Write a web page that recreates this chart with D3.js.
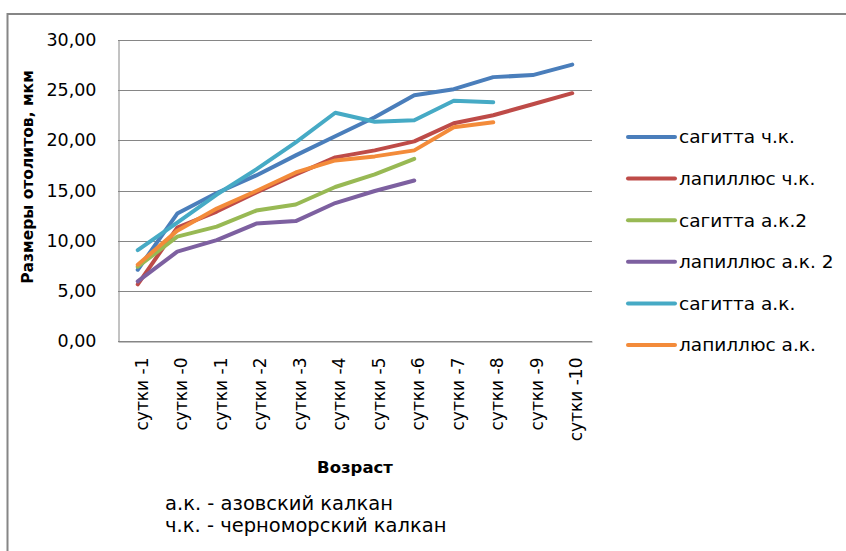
<!DOCTYPE html>
<html>
<head>
<meta charset="utf-8">
<script src="https://cdn.jsdelivr.net/npm/d3@7"></script>
<style>
  html, body { margin: 0; padding: 0; background: #fff; }
  svg { display: block; }
  text { font-family: "DejaVu Sans", "Open Sans", sans-serif; fill: #000; }
</style>
</head>
<body>
<svg id="chart" width="846" height="551"></svg>
<script>
// Age categories (days)
const categories = ["сутки -1", "сутки -0", "сутки -1", "сутки -2", "сутки -3", "сутки -4",
                    "сутки -5", "сутки -6", "сутки -7", "сутки -8", "сутки -9", "сутки -10"];

// Otolith sizes, µm
const sagittaChk   = [7.1, 12.7, 14.75, 16.5, 18.5, 20.4, 22.3, 24.5, 25.1, 26.3, 26.5, 27.55];
const lapillusChk  = [5.65, 11.3, 12.9, 14.8, 16.6, 18.3, 19.0, 19.9, 21.7, 22.5, 23.6, 24.7];
const sagittaAk2   = [7.4, 10.4, 11.4, 13.0, 13.6, 15.35, 16.6, 18.15];
const lapillusAk2  = [5.95, 8.9, 10.05, 11.7, 11.95, 13.75, 14.95, 16.0];
const sagittaAk    = [9.05, 11.8, 14.6, 17.1, 19.8, 22.75, 21.85, 22.0, 23.95, 23.8];
const lapillusAk   = [7.6, 11.0, 13.2, 14.95, 16.8, 18.0, 18.4, 19.0, 21.3, 21.8];

const seriesNames  = ["сагитта ч.к.", "лапиллюс ч.к.", "сагитта а.к.2", "лапиллюс а.к. 2", "сагитта а.к.", "лапиллюс а.к."];
const seriesValues = [sagittaChk, lapillusChk, sagittaAk2, lapillusAk2, sagittaAk, lapillusAk];
const seriesColors = ["#4A7EBB", "#BE4B48", "#98B954", "#7D60A0", "#46AAC5", "#F38B3A"];

const yTicks = [0, 5, 10, 15, 20, 25, 30];
const notes = ["а.к. - азовский калкан", "ч.к. - черноморский калкан"];

const svg = d3.select("#chart");

// outer chart frame (continues past the right and bottom edges)
svg.append("rect")
  .attr("x", 7.5).attr("y", 14).attr("width", 900).attr("height", 600)
  .attr("fill", "#fff").attr("stroke", "#868686").attr("stroke-width", 2);

const plot = { left: 118, right: 592, top: 40, bottom: 341 };

const x = d3.scaleBand()
  .domain(d3.range(categories.length))
  .range([plot.left, plot.right]);
const xc = i => x(i) + x.bandwidth() / 2;

const y = d3.scaleLinear().domain([0, 30]).range([plot.bottom, plot.top]);

// horizontal gridlines
svg.append("g")
  .selectAll("line")
  .data(yTicks)
  .join("line")
  .attr("x1", plot.left).attr("x2", plot.right)
  .attr("y1", d => Math.round(y(d)) + 0.5).attr("y2", d => Math.round(y(d)) + 0.5)
  .attr("stroke", "#868686").attr("stroke-width", 1);

// value axis
const yAxis = svg.append("g")
  .attr("transform", `translate(${plot.left + 0.5},0)`)
  .call(d3.axisLeft(y).tickValues(yTicks).tickSize(0).tickPadding(22)
    .tickFormat(d => d3.format(".2f")(d).replace(".", ",")));
yAxis.select(".domain").attr("stroke", "#868686");
yAxis.selectAll("text")
  .style("font-family", "'DejaVu Sans', sans-serif")
  .style("font-size", "17.5px").attr("fill", "#000");

// category axis
const xAxis = svg.append("g")
  .attr("transform", `translate(0,${Math.round(plot.bottom) + 0.5})`)
  .call(d3.axisBottom(x).tickSize(0).tickFormat(i => categories[i]));
xAxis.select(".domain").attr("stroke", "#868686");
xAxis.selectAll("text")
  .style("font-family", "'DejaVu Sans', sans-serif")
  .style("font-size", "17px").attr("fill", "#000")
  .attr("text-anchor", "end")
  .attr("transform", "rotate(-90)")
  .attr("x", -16).attr("y", 4).attr("dy", "0.35em");

// series lines
const line = d3.line()
  .x((d, i) => xc(i))
  .y(d => y(d));

svg.append("g")
  .selectAll("path")
  .data(seriesValues)
  .join("path")
  .attr("d", line)
  .attr("fill", "none")
  .attr("stroke", (d, i) => seriesColors[i])
  .attr("stroke-width", 4)
  .attr("stroke-linejoin", "round")
  .attr("stroke-linecap", "round");

// legend
const legend = svg.append("g").attr("transform", "translate(628,137)");
const item = legend.selectAll("g")
  .data(seriesNames)
  .join("g")
  .attr("transform", (d, i) => `translate(0,${i * 41.6})`);
item.append("line")
  .attr("x1", 0).attr("x2", 47).attr("y1", 0).attr("y2", 0)
  .attr("stroke", (d, i) => seriesColors[i])
  .attr("stroke-width", 4).attr("stroke-linecap", "round");
item.append("text")
  .attr("x", 51).attr("y", 0).attr("dy", "0.35em")
  .style("font-size", "18.5px")
  .text(d => d);

// axis titles
svg.append("text")
  .attr("transform", "translate(28,177) rotate(-90)")
  .attr("text-anchor", "middle").attr("dy", "0.35em")
  .style("font-size", "15.5px").style("font-weight", "bold")
  .text("Размеры отолитов, мкм");

svg.append("text")
  .attr("x", (plot.left + plot.right) / 2).attr("y", 467)
  .attr("text-anchor", "middle").attr("dy", "0.35em")
  .style("font-size", "16.5px").style("font-weight", "bold")
  .text("Возраст");

// abbreviation notes
svg.append("g")
  .selectAll("text")
  .data(notes)
  .join("text")
  .attr("x", 165).attr("y", (d, i) => 503.5 + i * 22)
  .attr("dy", "0.35em")
  .style("font-size", "19.5px")
  .text(d => d);
</script>
</body>
</html>
